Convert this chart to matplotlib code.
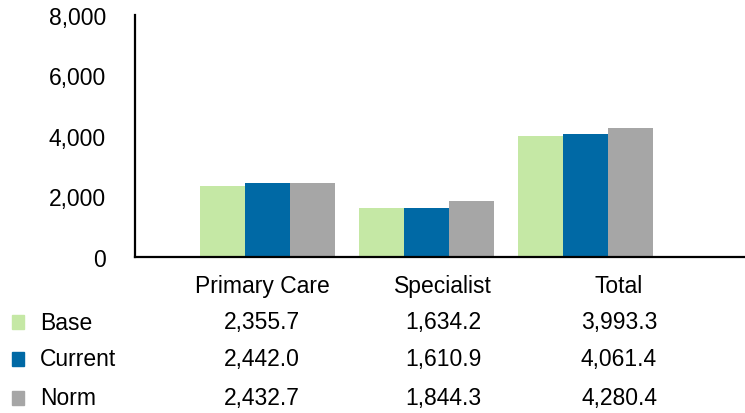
import matplotlib.pyplot as plt
import numpy as np
from matplotlib.patches import Rectangle

plt.rcParams['font.family'] = ['Liberation Sans', 'DejaVu Sans']

categories = ['Primary Care', 'Specialist', 'Total']
series = ['Base', 'Current', 'Norm']
base = [2355.7, 1634.2, 3993.3]
current = [2442.0, 1610.9, 4061.4]
norm = [2432.7, 1844.3, 4280.4]
y_ticks = [0, 2000, 4000, 6000, 8000]

COLORS = ['#C5E8A5', '#0069A5', '#A6A6A6']
FONT = 16.5
W, H = 745, 414

fig = plt.figure(figsize=(W / 100, H / 100), dpi=100)
ax = fig.add_axes([135 / W, (H - 258) / H, (W - 135) / W, 242 / H])

x = np.arange(len(categories))
width = 0.283
for i, (vals, color) in enumerate(zip([base, current, norm], COLORS)):
    ax.bar(x + (i - 1) * width, vals, width=width, color=color, zorder=2)

ax.set_xlim(-0.836, 3.0)
ax.set_ylim(0, 8000)
ax.set_yticks(y_ticks)
ax.set_yticklabels(['{:,}'.format(t) for t in y_ticks], fontsize=FONT)
ax.tick_params(axis='y', length=0, pad=21)
ax.set_xticks([])
for side in ['top', 'right']:
    ax.spines[side].set_visible(False)
for side in ['left', 'bottom']:
    ax.spines[side].set_linewidth(1.6)
    ax.spines[side].set_color('black')
    ax.spines[side].set_clip_on(False)

# data table beneath the chart
col_x = [262, 443, 619]
header_y = 287
row_y = [323, 360, 399]
for cx, name in zip(col_x, categories):
    fig.text(cx / W, 1 - header_y / H, name, ha='center', va='center', fontsize=FONT)

for ry, label, vals, color in zip(row_y, series, [base, current, norm], COLORS):
    fig.patches.append(Rectangle((12 / W, 1 - (ry + 7) / H), 12 / W, 14 / H,
                                 transform=fig.transFigure, color=color))
    fig.text(40 / W, 1 - ry / H, label, ha='left', va='center', fontsize=FONT)
    for cx, v in zip(col_x, vals):
        fig.text(cx / W, 1 - ry / H, '{:,.1f}'.format(v), ha='center', va='center', fontsize=FONT)

plt.savefig('out.png', dpi=100)
